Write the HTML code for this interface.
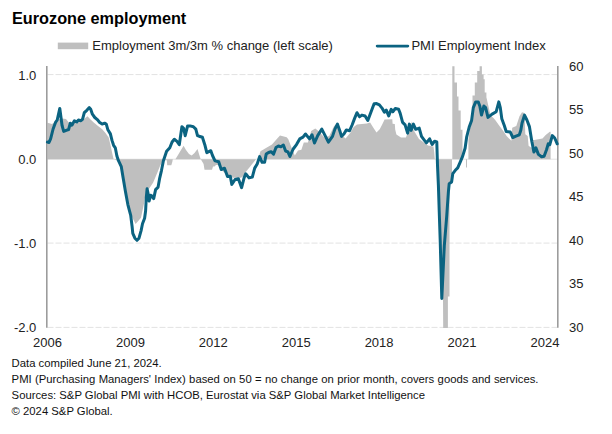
<!DOCTYPE html>
<html><head><meta charset="utf-8"><title>Eurozone employment</title>
<style>
html,body{margin:0;padding:0;background:#fff;}
body{width:612px;height:434px;overflow:hidden;position:relative;font-family:"Liberation Sans",sans-serif;color:#1a1a1a;}
svg{position:absolute;left:0;top:0;}
svg text{font-family:"Liberation Sans",sans-serif;fill:#222;}
.title{position:absolute;left:12px;top:8.5px;font-size:16.25px;font-weight:bold;color:#000;white-space:nowrap;line-height:18px;}
.foot{position:absolute;left:11.6px;font-size:11.3px;color:#111;white-space:nowrap;line-height:14px;}
</style></head><body>
<svg width="612" height="434" viewBox="0 0 612 434">
<line x1="47.5" x2="557.5" y1="74.6" y2="74.6" stroke="#e2e2e2" stroke-width="1" stroke-dasharray="6 2"/>
<line x1="47.5" x2="557.5" y1="243.1" y2="243.1" stroke="#e2e2e2" stroke-width="1" stroke-dasharray="6 2"/>
<line x1="47.5" x2="557.5" y1="327.4" y2="327.4" stroke="#e2e2e2" stroke-width="1" stroke-dasharray="6 2"/>
<line x1="47.5" x2="557.5" y1="159.2" y2="159.2" stroke="#e4e4e4" stroke-width="1"/>

<polygon points="47.5,159.2 47.5,122.7 52.0,124.0 55.0,122.0 58.0,119.5 62.0,118.6 66.0,119.0 70.0,124.0 75.0,123.0 80.0,122.0 84.0,119.0 87.5,116.2 90.0,119.0 94.0,122.7 98.0,126.0 102.2,129.3 105.5,133.0 108.7,137.5 110.5,145.0 112.0,152.2 113.6,159.2 113.6,159.2" fill="#bfbfbf"/>
<polygon points="113.9,159.2 113.9,159.2 117.0,160.5 119.5,163.0 121.5,167.0 123.0,176.0 125.5,190.7 127.9,203.8 129.6,210.4 131.5,216.0 135.6,224.0 141.0,217.7 143.9,204.0 146.0,192.0 149.9,187.5 153.2,182.5 157.3,172.7 160.0,166.0 163.0,160.2 166.8,160.2 167.2,165.3 171.3,165.3 172.3,162.0 172.8,159.2 172.8,159.2" fill="#bfbfbf"/>
<polygon points="175.4,159.2 175.4,159.2 178.0,155.0 181.0,150.0 183.6,145.8 186.0,150.0 189.0,154.0 191.7,155.6 194.5,153.0 197.5,149.1 199.0,154.0 200.7,159.2 200.7,159.2" fill="#bfbfbf"/>
<polygon points="200.8,159.2 200.8,159.2 203.6,164.0 204.5,169.8 212.0,169.8 213.0,166.5 214.5,166.5 216.0,165.0 218.0,165.0 220.0,168.0 223.0,171.5 226.0,174.0 229.0,176.0 233.0,177.8 241.0,177.8 243.5,176.0 245.7,172.0 249.0,168.0 253.0,163.0 256.0,159.2 256.0,159.2" fill="#bfbfbf"/>
<polygon points="258.0,159.2 258.0,159.2 260.5,151.2 266.0,148.0 272.0,144.6 276.8,138.9 280.0,135.6 286.7,137.3 288.3,139.2 291.5,147.4 294.8,155.6 298.0,150.6 301.4,149.8 303.8,142.5 307.9,142.5 311.2,131.0 315.3,128.6 319.4,131.8 324.3,137.5 329.2,135.9 334.1,126.1 337.4,123.6 340.6,134.3 345.6,138.4 350.5,132.6 353.7,126.9 357.0,124.5 366.8,123.6 370.1,122.4 373.2,127.6 376.5,132.6 379.7,129.3 382.2,124.4 384.6,119.5 392.3,119.3 392.6,123.8 394.8,124.0 395.2,129.5 396.4,134.4 401.0,137.5 405.9,137.5 408.4,130.9 410.8,127.0 411.6,121.1 412.4,127.0 414.1,130.9 419.0,139.1 423.9,142.4 428.0,145.5 433.5,146.5 434.2,152.0 434.8,159.2 434.8,159.2" fill="#bfbfbf"/>
<polygon points="438.0,159.2 438.0,159.2 438.0,175.0 440.0,200.0 441.0,260.0 443.0,300.0 443.2,328.0 447.9,328.0 447.9,296.4 449.5,296.4 449.5,182.0 452.0,182.0 452.0,159.2 452.0,159.2" fill="#bfbfbf"/>
<polygon points="452.3,159.2 452.3,159.2 452.3,66.2 454.5,66.2 454.5,82.5 457.0,82.5 457.0,96.5 458.5,96.5 458.5,110.4 460.7,110.4 460.7,129.7 462.5,129.7 462.5,159.2 462.5,159.2" fill="#bfbfbf"/>
<polygon points="466.0,159.2 466.0,159.2 466.0,167.4 467.0,167.4 467.0,159.2 467.0,159.2" fill="#bfbfbf"/>
<polygon points="468.4,159.2 468.4,159.2 468.4,140.0 470.0,128.0 472.5,115.0 472.5,95.6 474.8,95.6 474.8,82.5 477.2,82.5 477.2,71.1 479.6,71.1 479.6,66.2 481.9,66.2 481.9,74.4 483.6,74.4 483.6,79.3 484.7,79.3 484.7,92.4 486.4,92.4 486.4,97.3 490.5,115.3 493.7,118.3 495.4,120.2 498.6,124.8 503.6,131.4 506.8,136.3 511.4,140.8 512.2,127.7 516.3,126.1 519.5,116.3 522.0,112.2 524.5,113.0 525.3,134.3 527.7,135.9 528.6,145.7 531.0,147.4 533.0,147.4 533.0,140.0 534.3,140.0 542.5,138.4 545.7,135.1 549.8,131.8 550.6,131.8 550.6,159.2 550.6,159.2" fill="#bfbfbf"/>

<line x1="46.8" x2="46.8" y1="66" y2="327.8" stroke="#9c9c9c" stroke-width="1.6"/>
<line x1="557.8" x2="557.8" y1="66" y2="327.8" stroke="#9c9c9c" stroke-width="1.6"/>
<polyline points="47.4,142.1 49.0,142.5 50.6,138.8 53.1,129.0 55.5,122.4 57.2,120.0 59.8,108.4 60.9,116.7 62.1,125.7 63.7,131.4 66.2,130.3 68.6,129.5 70.3,123.2 71.9,125.2 74.4,120.8 76.8,121.9 78.5,120.0 80.9,120.8 82.6,119.1 84.3,112.7 86.8,110.3 89.3,107.6 90.7,109.3 92.4,114.2 94.8,117.5 97.3,119.6 99.7,122.4 102.2,124.1 104.6,123.2 106.3,124.1 107.9,129.8 110.4,133.9 112.0,140.4 113.6,145.3 115.3,147.8 116.9,156.0 118.6,160.9 121.3,166.7 122.9,176.5 125.4,191.2 127.8,204.3 129.5,210.9 130.7,215.4 132.1,226.5 132.8,233.4 134.9,238.2 137.0,240.3 139.0,238.2 141.1,230.6 142.5,223.7 144.6,218.2 145.6,211.0 146.3,197.5 147.1,188.8 148.3,194.5 149.1,201.1 150.7,195.3 152.0,196.1 153.7,198.6 155.6,189.6 158.1,187.1 159.7,178.1 161.4,170.8 163.4,160.7 166.6,151.2 169.8,147.7 172.1,142.0 174.3,139.3 177.0,141.4 179.3,144.7 181.9,126.7 183.6,128.3 185.2,135.7 187.6,125.9 190.1,125.9 193.4,126.7 195.8,129.1 197.5,135.7 199.9,136.5 202.4,137.3 204.8,144.7 206.8,152.7 210.8,150.7 212.5,155.5 215.0,160.9 218.7,161.7 221.2,169.5 224.5,168.2 227.5,176.5 230.3,176.3 231.8,184.4 235.1,179.5 238.4,178.7 241.6,187.7 244.1,177.9 245.7,173.8 249.0,177.9 252.3,177.1 254.7,168.1 257.2,164.0 259.6,156.6 262.1,162.3 264.6,162.3 266.2,154.1 268.6,152.5 271.1,151.7 273.6,154.1 276.0,147.6 278.5,146.0 280.9,146.8 283.4,145.1 285.6,151.0 287.9,151.9 289.9,156.5 293.2,149.0 296.5,144.6 299.7,138.9 303.0,137.2 305.5,134.0 309.5,138.9 312.0,134.8 314.5,143.0 317.7,135.6 321.8,129.1 325.1,135.6 328.4,142.1 332.5,136.4 334.9,129.1 337.4,124.1 339.8,130.7 341.5,136.4 343.9,134.0 346.4,129.9 349.6,130.7 352.1,125.0 354.6,118.4 357.0,112.7 359.5,116.8 361.9,115.1 365.1,116.0 367.8,120.5 371.0,112.0 374.1,103.7 376.6,103.6 379.4,104.9 382.0,108.1 384.4,112.3 386.3,110.1 388.7,115.9 391.2,109.3 392.8,111.8 395.3,108.5 398.6,109.3 400.2,113.4 402.6,122.4 405.1,124.9 407.6,133.1 409.4,124.1 411.1,130.4 413.4,124.1 415.7,129.3 419.2,128.1 421.5,136.4 423.9,139.6 426.4,142.9 429.6,138.8 432.1,144.5 434.6,141.2 436.8,142.0 437.5,165.5 438.4,185.5 439.2,210.5 440.2,240.5 441.8,298.5 444.3,245.9 446.7,216.4 448.4,191.9 449.2,183.7 451.6,182.0 452.8,173.6 455.3,170.3 457.7,167.9 460.2,162.1 462.6,156.4 465.1,148.2 466.7,136.8 469.2,127.0 471.6,120.4 473.3,107.6 475.7,101.9 478.2,101.9 479.8,106.0 481.5,115.0 483.9,106.0 485.6,107.6 488.0,117.4 492.1,114.1 496.2,111.7 498.8,101.9 500.3,107.6 501.8,118.8 504.2,125.3 506.2,131.5 510.3,132.1 512.8,137.5 516.0,136.2 519.3,134.9 520.8,130.2 522.0,123.3 524.5,115.1 526.9,120.0 529.4,126.6 531.8,141.3 533.9,152.0 535.9,147.9 538.4,154.4 541.6,156.8 544.1,156.2 546.6,149.5 548.2,143.8 549.8,144.6 552.3,135.6 554.7,138.0 557.2,143.8" fill="none" stroke="#0b6381" stroke-width="3.0" stroke-linejoin="round" stroke-linecap="round"/>
<text x="36.3" y="79.70" text-anchor="end" font-size="13">1.0</text>
<text x="36.3" y="164.00" text-anchor="end" font-size="13">0.0</text>
<text x="36.3" y="248.30" text-anchor="end" font-size="13">-1.0</text>
<text x="36.3" y="332.40" text-anchor="end" font-size="13">-2.0</text>
<text x="569" y="70.70" font-size="13">60</text>
<text x="569" y="114.20" font-size="13">55</text>
<text x="569" y="157.70" font-size="13">50</text>
<text x="569" y="201.20" font-size="13">45</text>
<text x="569" y="244.70" font-size="13">40</text>
<text x="569" y="288.20" font-size="13">35</text>
<text x="569" y="331.70" font-size="13">30</text>
<text x="47.5" y="347.3" text-anchor="middle" font-size="13">2006</text>
<text x="130.4" y="347.3" text-anchor="middle" font-size="13">2009</text>
<text x="213.3" y="347.3" text-anchor="middle" font-size="13">2012</text>
<text x="296.2" y="347.3" text-anchor="middle" font-size="13">2015</text>
<text x="379.1" y="347.3" text-anchor="middle" font-size="13">2018</text>
<text x="462.0" y="347.3" text-anchor="middle" font-size="13">2021</text>
<text x="544.9" y="347.3" text-anchor="middle" font-size="13">2024</text>

<rect x="57.8" y="42.6" width="30.4" height="6.6" fill="#bfbfbf"/>
<text x="92.3" y="50.2" font-size="13">Employment 3m/3m % change (left scale)</text>
<line x1="377.2" x2="407.8" y1="46.1" y2="46.1" stroke="#0b6381" stroke-width="2.9" stroke-linecap="round"/>
<text x="411.4" y="50.2" font-size="13">PMI Employment Index</text>
</svg>
<div class="title">Eurozone employment</div>
<div class="foot" style="top:356.1px">Data compiled June 21, 2024.</div>
<div class="foot" style="top:372.4px;word-spacing:0.2px">PMI (Purchasing Managers' Index) based on 50 = no change on prior month, covers goods and services.</div>
<div class="foot" style="top:388.2px">Sources: S&amp;P Global PMI with HCOB, Eurostat via S&amp;P Global Market Intelligence</div>
<div class="foot" style="top:404.2px">&copy; 2024 S&amp;P Global.</div>
</body></html>
